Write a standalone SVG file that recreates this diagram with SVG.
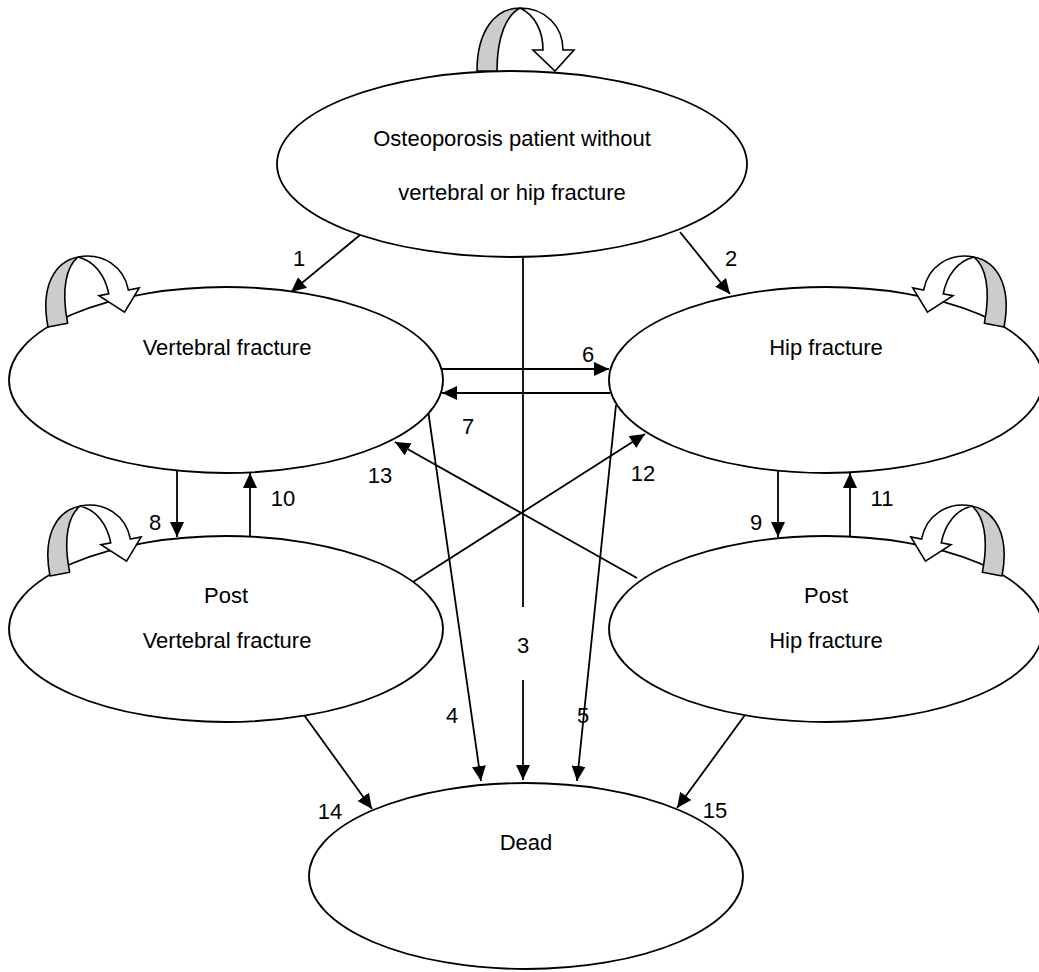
<svg xmlns="http://www.w3.org/2000/svg" width="1039" height="972" viewBox="0 0 1039 972">
<style>
.node{fill:#fff;stroke:#000;stroke-width:1.8}
.t{font-family:"Liberation Sans",Arial,sans-serif;font-size:22px;fill:#000;text-anchor:middle}
.c{stroke:#000;stroke-width:1.8;fill:none}
.a{marker-end:url(#ah)}
.gray{fill:#cccccc;stroke:#000;stroke-width:1.6;stroke-linejoin:round}
.wht{fill:#fff;stroke:#000;stroke-width:1.6;stroke-linejoin:miter}
</style>
<defs>
<marker id="ah" markerUnits="userSpaceOnUse" viewBox="0 0 15 14" refX="15" refY="7" markerWidth="15" markerHeight="14" orient="auto">
<path d="M0,0 L15,7 L0,14 z" fill="#000"/>
</marker>
<g id="loop">
<path class="gray" d="M0,0 C0,-40 18,-63 43,-63 C30,-56 20,-36 20,0 Z"/>
<path class="wht" d="M43,-63 C68,-63 86,-45 86,-21 L97,-21 L78,0 L56,-21 L66,-21 C66,-40 58,-56 43,-63 Z"/>
</g>
</defs>
<rect width="1039" height="972" fill="#fff"/>
<g id="connectors">
<line class="c a" x1="360" y1="235" x2="291" y2="292"/>
<line class="c a" x1="680" y1="232" x2="730" y2="294"/>
<line class="c" x1="523" y1="258" x2="523" y2="607"/>
<line class="c a" x1="523" y1="680" x2="523" y2="780"/>
<line class="c a" x1="428" y1="410" x2="481" y2="781"/>
<line class="c a" x1="616" y1="405" x2="577" y2="781"/>
<line class="c a" x1="442" y1="369" x2="609" y2="369"/>
<line class="c a" x1="610" y1="393" x2="442" y2="393"/>
<line class="c a" x1="177" y1="471" x2="177" y2="537"/>
<line class="c a" x1="250" y1="537" x2="250" y2="473"/>
<line class="c a" x1="778" y1="471" x2="778" y2="537"/>
<line class="c a" x1="850" y1="537" x2="850" y2="473"/>
<line class="c a" x1="413" y1="582" x2="645" y2="434"/>
<line class="c a" x1="637" y1="578" x2="395" y2="442"/>
<line class="c a" x1="304" y1="715" x2="372" y2="809"/>
<line class="c a" x1="745" y1="715" x2="677" y2="808"/>
<text class="t" x="299" y="266">1</text>
<text class="t" x="731" y="266">2</text>
<text class="t" x="523" y="653">3</text>
<text class="t" x="452" y="723">4</text>
<text class="t" x="583" y="723">5</text>
<text class="t" x="588" y="362">6</text>
<text class="t" x="468" y="434">7</text>
<text class="t" x="155" y="530">8</text>
<text class="t" x="756" y="530">9</text>
<text class="t" x="283" y="506">10</text>
<text class="t" x="882" y="506">11</text>
<text class="t" x="643" y="481">12</text>
<text class="t" x="380" y="483">13</text>
<text class="t" x="330" y="819">14</text>
<text class="t" x="715" y="818">15</text>
</g>
<g id="n-osteo">
<ellipse class="node" cx="512" cy="164" rx="235" ry="93"/>
<text class="t" x="512" y="146">Osteoporosis patient without</text>
<text class="t" x="512" y="200">vertebral or hip fracture</text>
<use href="#loop" transform="translate(477,71)"/>
</g>
<g id="n-vert">
<ellipse class="node" cx="226" cy="380" rx="217" ry="93"/>
<text class="t" x="227" y="355">Vertebral fracture</text>
<use href="#loop" transform="translate(48,327) rotate(-11)"/>
</g>
<g id="n-hip">
<ellipse class="node" cx="826" cy="380" rx="217" ry="93"/>
<text class="t" x="826" y="355">Hip fracture</text>
<use href="#loop" transform="translate(1004,327) scale(-1,1) rotate(-11)"/>
</g>
<g id="n-postvert">
<ellipse class="node" cx="226" cy="629" rx="217" ry="93"/>
<text class="t" x="226" y="603">Post</text>
<text class="t" x="227" y="648">Vertebral fracture</text>
<use href="#loop" transform="translate(50,576) rotate(-11)"/>
</g>
<g id="n-posthip">
<ellipse class="node" cx="826" cy="629" rx="217" ry="93"/>
<text class="t" x="826" y="603">Post</text>
<text class="t" x="826" y="648">Hip fracture</text>
<use href="#loop" transform="translate(1002,576) scale(-1,1) rotate(-11)"/>
</g>
<g id="n-dead">
<ellipse class="node" cx="526" cy="876" rx="217" ry="93"/>
<text class="t" x="526" y="850">Dead</text>
</g>
</svg>
